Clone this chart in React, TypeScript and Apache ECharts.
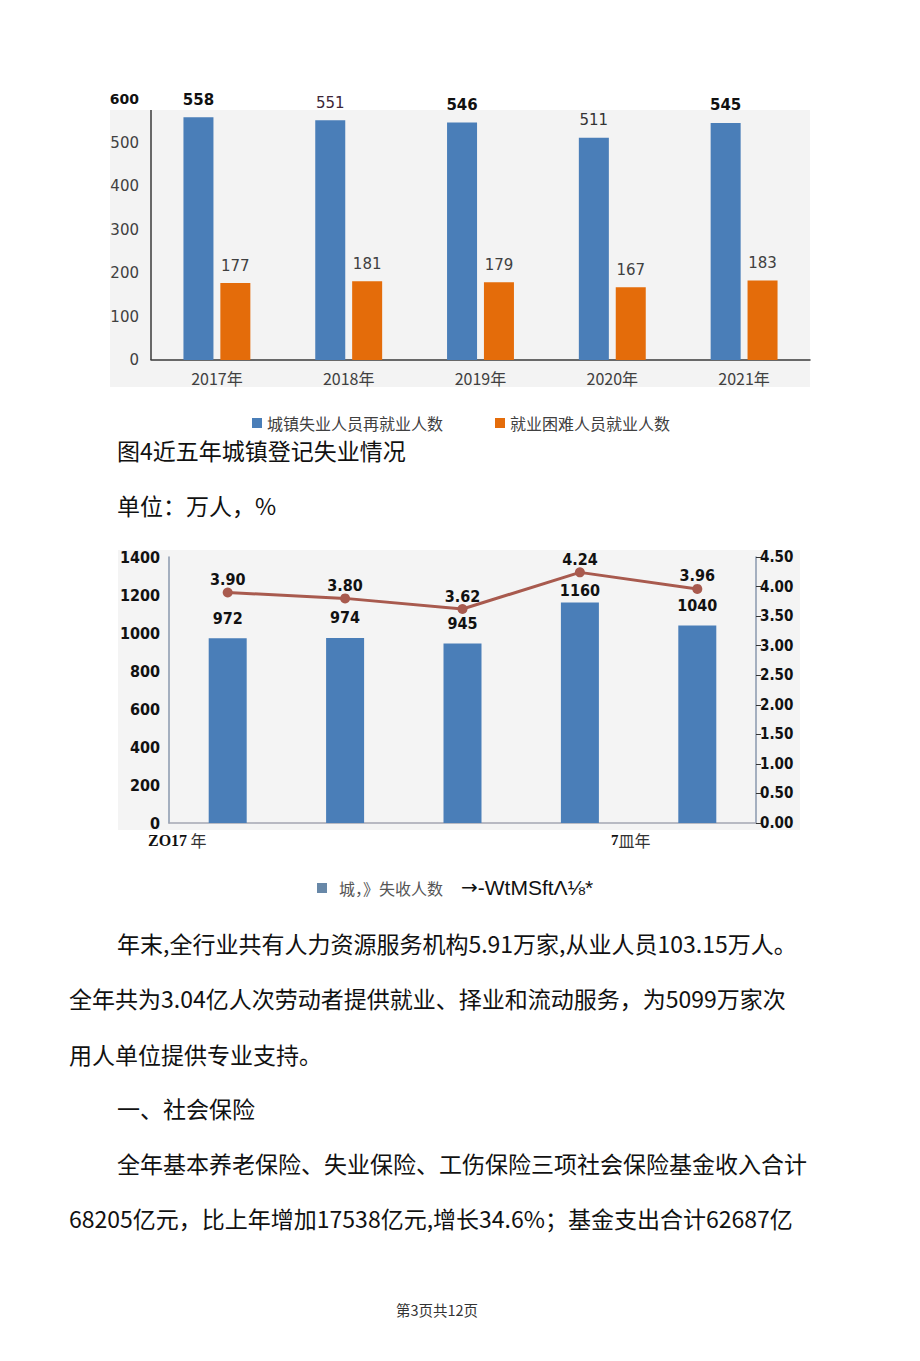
import React, { useEffect, useRef } from "react";
import * as echarts from "echarts";

// ---- Chart 1 data ----
const years1 = ["2017年", "2018年", "2019年", "2020年", "2021年"];
const reemployedName = "城镇失业人员再就业人数";
const reemployed = [558, 551, 546, 511, 545];
const hardName = "就业困难人员就业人数";
const hardEmployed = [177, 181, 179, 167, 183];

// ---- Chart 2 data ----
const years2 = ["2017", "2018", "2019", "2020", "2021"];
const unemployedName = "城，》失收人数";
const unemployed = [972, 974, 945, 1160, 1040];
const rateName = "→-WtMSftΛ⅛*";
const rate = [3.9, 3.8, 3.62, 4.24, 3.96];
const xLabels2 = ["ZO17", "7皿年"];

// ---- Texts ----
const title1 = "图4近五年城镇登记失业情况";
const unitText = "单位：万人，%";
const paragraphs = [
  "年末,全行业共有人力资源服务机构5.91万家,从业人员103.15万人。",
  "全年共为3.04亿人次劳动者提供就业、择业和流动服务，为5099万家次",
  "用人单位提供专业支持。",
  "一、社会保险",
  "全年基本养老保险、失业保险、工伤保险三项社会保险基金收入合计",
  "68205亿元，比上年增加17538亿元,增长34.6%；基金支出合计62687亿",
];
const footer = "第3页共12页";

const CJK = "'Noto Sans CJK SC', 'Noto Sans', sans-serif";
const NUM = "'DejaVu Sans', sans-serif";
const COND = "'DejaVu Sans Condensed', 'DejaVu Sans', sans-serif";

export default function App() {
  const ref = useRef<HTMLDivElement>(null);
  useEffect(() => {
    document.body.style.margin = "0";
    const chart = echarts.init(ref.current!, null, { renderer: "svg" });
    const boldBlue = [true, false, true, false, true];
    const blueColors = ["#111", "#3d2638", "#111", "#333", "#111"];

    const paraPos = [
      [117, 943],
      [69, 998],
      [69, 1054],
      [117, 1108],
      [117, 1163],
      [69, 1218],
    ];

    const option: any = {
      animation: false,
      backgroundColor: "#ffffff",
      grid: [
        { left: 151, top: 99, width: 659, height: 261 },
        { left: 169, top: 557, width: 587, height: 266 },
      ],
      legend: [
        {
          data: [reemployedName, hardName],
          left: 247,
          top: 409,
          itemWidth: 10,
          itemHeight: 10,
          itemGap: 52,
          icon: "rect",
          textStyle: { fontSize: 16, lineHeight: 18, color: "#404040", fontFamily: CJK },
        },
      ],
      xAxis: [
        {
          type: "category",
          gridIndex: 0,
          data: years1,
          axisLine: { lineStyle: { color: "#3a3a3a", width: 1.5 } },
          axisTick: { show: false },
          axisLabel: { color: "#404040", fontSize: 16, margin: 10, fontFamily: CJK },
        },
        {
          type: "category",
          gridIndex: 1,
          data: years2,
          axisLine: { lineStyle: { color: "#a4a6b2", width: 1.5 } },
          axisTick: { show: false },
          axisLabel: { show: false },
        },
      ],
      yAxis: [
        {
          type: "value",
          gridIndex: 0,
          min: 0,
          max: 600,
          interval: 100,
          axisLine: { show: false },
          axisTick: { show: false },
          splitLine: { show: false },
          axisLabel: {
            margin: 12,
            fontFamily: NUM,
            fontSize: 15,
            color: "#404040",
            formatter: (v: number) => (v === 600 ? "{b|" + v + "}" : String(v)),
            rich: { b: { fontWeight: "bold", color: "#111", fontSize: 14, fontFamily: NUM } },
          },
        },
        {
          type: "value",
          gridIndex: 1,
          min: 0,
          max: 1400,
          interval: 200,
          axisLine: { show: true, lineStyle: { color: "#8a98ae", width: 1.5 } },
          axisTick: { show: false },
          splitLine: { show: false },
          axisLabel: {
            margin: 9,
            fontFamily: COND,
            fontWeight: "bold",
            fontSize: 16,
            color: "#111",
            formatter: (v: number) => String(v),
          },
        },
        {
          type: "value",
          gridIndex: 1,
          position: "right",
          min: 0,
          max: 4.5,
          interval: 0.5,
          axisLine: { show: true, lineStyle: { color: "#8a98ae", width: 1.5 } },
          axisTick: { show: true, length: 5, lineStyle: { color: "#333" } },
          splitLine: { show: false },
          axisLabel: {
            margin: 4,
            fontFamily: COND,
            fontWeight: "bold",
            fontSize: 15,
            color: "#111",
            formatter: (v: number) => v.toFixed(2),
          },
        },
      ],
      series: [
        {
          name: reemployedName,
          type: "bar",
          xAxisIndex: 0,
          yAxisIndex: 0,
          barWidth: 30,
          barGap: "23%",
          itemStyle: { color: "#4a7eb8" },
          data: reemployed.map((v, i) => ({
            value: v,
            label: {
              fontWeight: boldBlue[i] ? "bold" : "normal",
              color: blueColors[i],
            },
          })),
          label: { show: true, position: "top", distance: 10, fontSize: 15, fontFamily: NUM },
        },
        {
          name: hardName,
          type: "bar",
          xAxisIndex: 0,
          yAxisIndex: 0,
          barWidth: 30,
          itemStyle: { color: "#e46c0a" },
          data: hardEmployed,
          label: { show: true, position: "top", distance: 10, fontSize: 15, color: "#404040", fontFamily: NUM },
        },
        {
          name: unemployedName,
          type: "bar",
          xAxisIndex: 1,
          yAxisIndex: 1,
          barWidth: 38,
          itemStyle: { color: "#4a7eb8" },
          data: unemployed.map((v, i) => ({
            value: v,
            label: { distance: i === 3 ? 4 : 12 },
          })),
          label: {
            show: true,
            position: "top",
            fontSize: 16,
            fontWeight: "bold",
            color: "#111",
            fontFamily: COND,
          },
        },
        {
          name: rateName,
          type: "line",
          xAxisIndex: 1,
          yAxisIndex: 2,
          data: rate,
          symbol: "circle",
          symbolSize: 10,
          lineStyle: { color: "#a85a4e", width: 3 },
          itemStyle: { color: "#a85a4e" },
          label: {
            show: true,
            position: "top",
            distance: 0,
            fontSize: 16,
            fontWeight: "bold",
            color: "#111",
            fontFamily: COND,
            formatter: (p: any) => p.value.toFixed(2),
          },
          z: 5,
        },
      ],
      graphic: [
        { type: "rect", z: -10, shape: { x: 110, y: 110, width: 700, height: 277 }, style: { fill: "#f3f3f3" } },
        { type: "line", z: 1, shape: { x1: 151, y1: 110, x2: 151, y2: 360 }, style: { stroke: "#3a3a3a", lineWidth: 1.5 } },
        { type: "rect", z: -10, shape: { x: 118, y: 550, width: 682, height: 280 }, style: { fill: "#f4f4f4" } },
        {
          type: "text",
          x: 148,
          y: 840,
          style: {
            text: "{a|" + xLabels2[0] + "} {b|年}",
            verticalAlign: "middle",
            rich: {
              a: { fontFamily: "'Liberation Serif', serif", fontWeight: "bold", fontSize: 16, fill: "#111" },
              b: { fontFamily: CJK, fontSize: 16, fill: "#333" },
            },
          },
        },
        {
          type: "text",
          x: 611,
          y: 840,
          style: {
            text: "{a|7}{b|皿年}",
            verticalAlign: "middle",
            rich: {
              a: { fontFamily: "'Liberation Serif', serif", fontWeight: "bold", fontSize: 15, fill: "#111" },
              b: { fontFamily: CJK, fontSize: 16, fill: "#333" },
            },
          },
        },
        { type: "rect", shape: { x: 317, y: 883, width: 10, height: 10 }, style: { fill: "#6888a8" } },
        {
          type: "text",
          x: 339,
          y: 888,
          style: { text: unemployedName, verticalAlign: "middle", fontFamily: CJK, fontSize: 16, fill: "#555" },
        },
        {
          type: "text",
          x: 461,
          y: 887,
          style: {
            text: "{a|→}{b|" + rateName.slice(1) + "}",
            verticalAlign: "middle",
            rich: {
              a: { fontFamily: "'DejaVu Sans', sans-serif", fontSize: 20, fill: "#111" },
              b: { fontFamily: "'Liberation Sans', sans-serif", fontSize: 21, fill: "#111" },
            },
          },
        },
        {
          type: "text",
          x: 117,
          y: 450,
          style: { text: title1, verticalAlign: "middle", fontFamily: CJK, fontSize: 23, fill: "#111" },
        },
        {
          type: "text",
          x: 117,
          y: 505,
          style: { text: unitText, verticalAlign: "middle", fontFamily: CJK, fontSize: 23, fill: "#111" },
        },
        ...paragraphs.map((t, i) => ({
          type: "text",
          x: paraPos[i][0],
          y: paraPos[i][1],
          style: { text: t, verticalAlign: "middle", fontFamily: CJK, fontSize: 23, fill: "#111" },
        })),
        {
          type: "text",
          x: 437,
          y: 1309,
          style: { text: footer, align: "center", verticalAlign: "middle", fontFamily: CJK, fontSize: 14.5, fill: "#333" },
        },
      ],
    };
    chart.setOption(option);
    return () => chart.dispose();
  }, []);
  return <div ref={ref} style={{ width: 920, height: 1361 }} />;
}
